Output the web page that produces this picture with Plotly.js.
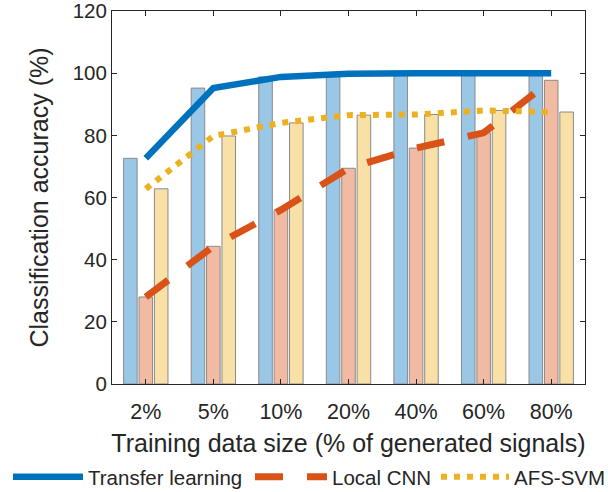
<!DOCTYPE html>
<html>
<head>
<meta charset="utf-8">
<script src="https://cdn.plot.ly/plotly-3.0.1.min.js"></script>
<style>html,body{margin:0;padding:0;background:#fff;}#chart{width:608px;height:492px;}</style>
</head>
<body>
<div id="chart"></div>
<script>
const categories = ["2%", "5%", "10%", "20%", "40%", "60%", "80%"];
const transferLearning = [72.6, 95.2, 98.8, 99.8, 100, 100, 100];
const localCNN = [28.0, 44.3, 56.0, 69.4, 75.9, 80.8, 97.7];
const afsSVM = [62.8, 79.8, 84.0, 86.5, 86.7, 88.0, 87.5];
const seriesNames = ["Transfer learning", "Local CNN", "AFS-SVM"];

const lineColors = ["#0072BD", "#D95319", "#EDB120"];
const barColors = ["#99C7E5", "#F0BAA3", "#F8E0A6"];
const series = [transferLearning, localCNN, afsSVM];

const traces = [];
series.forEach((vals, i) => {
  traces.push({
    type: "bar", x: categories, y: vals, showlegend: false, hoverinfo: "skip",
    marker: {color: barColors[i], line: {color: "#8a8a8a", width: 1}}
  });
});
const dashes = ["solid", "28px,24px", "6px,7px"];
const widths = [6.5, 7, 6];
const legendIds = ["legend", "legend2", "legend3"];
series.forEach((vals, i) => {
  traces.push({
    type: "scatter", mode: "lines", x: categories, y: vals, name: seriesNames[i],
    legend: legendIds[i],
    line: {color: lineColors[i], width: widths[i], dash: dashes[i]}
  });
});

const axisCommon = {
  showline: true, linecolor: "#262626", linewidth: 1, mirror: "ticks",
  ticks: "inside", ticklen: 5, tickcolor: "#262626", showgrid: false, zeroline: false,
  ticklabeloverflow: "allow", automargin: true
};

function legendAt(px, itemwidth) {
  return {
    orientation: "h", xref: "container", yref: "container", x: px / 608, y: 15 / 492,
    xanchor: "left", yanchor: "middle", itemwidth: itemwidth,
    font: {family: "Liberation Sans, Arial, sans-serif", size: 20.5, color: "#262626"},
    bgcolor: "rgba(0,0,0,0)", borderwidth: 0
  };
}

const layout = {
  width: 608, height: 492,
  margin: {l: 112, r: 23, t: 11, b: 108, autoexpand: false},
  paper_bgcolor: "#fff", plot_bgcolor: "#fff",
  barmode: "group", bargap: 0.316, bargroupgap: 0.12,
  font: {family: "Liberation Sans, Arial, sans-serif", color: "#262626"},
  xaxis: Object.assign({}, axisCommon, {
    type: "category", range: [-0.5, 6.5], ticklabelstandoff: 8,
    tickfont: {family: "Liberation Sans, Arial, sans-serif", size: 21.5, color: "#262626"},
    title: {text: "Training data size (% of generated signals)", font: {size: 25, color: "#262626"}, standoff: 16}
  }),
  yaxis: Object.assign({}, axisCommon, {
    range: [0, 120], dtick: 20,
    tickfont: {family: "Liberation Sans, Arial, sans-serif", size: 20.5, color: "#262626"},
    title: {text: "Classification accuracy (%)", font: {size: 25, color: "#262626"}, standoff: 16}
  }),
  legend: legendAt(8, 70),
  legend2: legendAt(250, 72),
  legend3: legendAt(436, 68),
  showlegend: true
};

Plotly.newPlot("chart", traces, layout, {displayModeBar: false, staticPlot: true});
</script>
</body>
</html>
